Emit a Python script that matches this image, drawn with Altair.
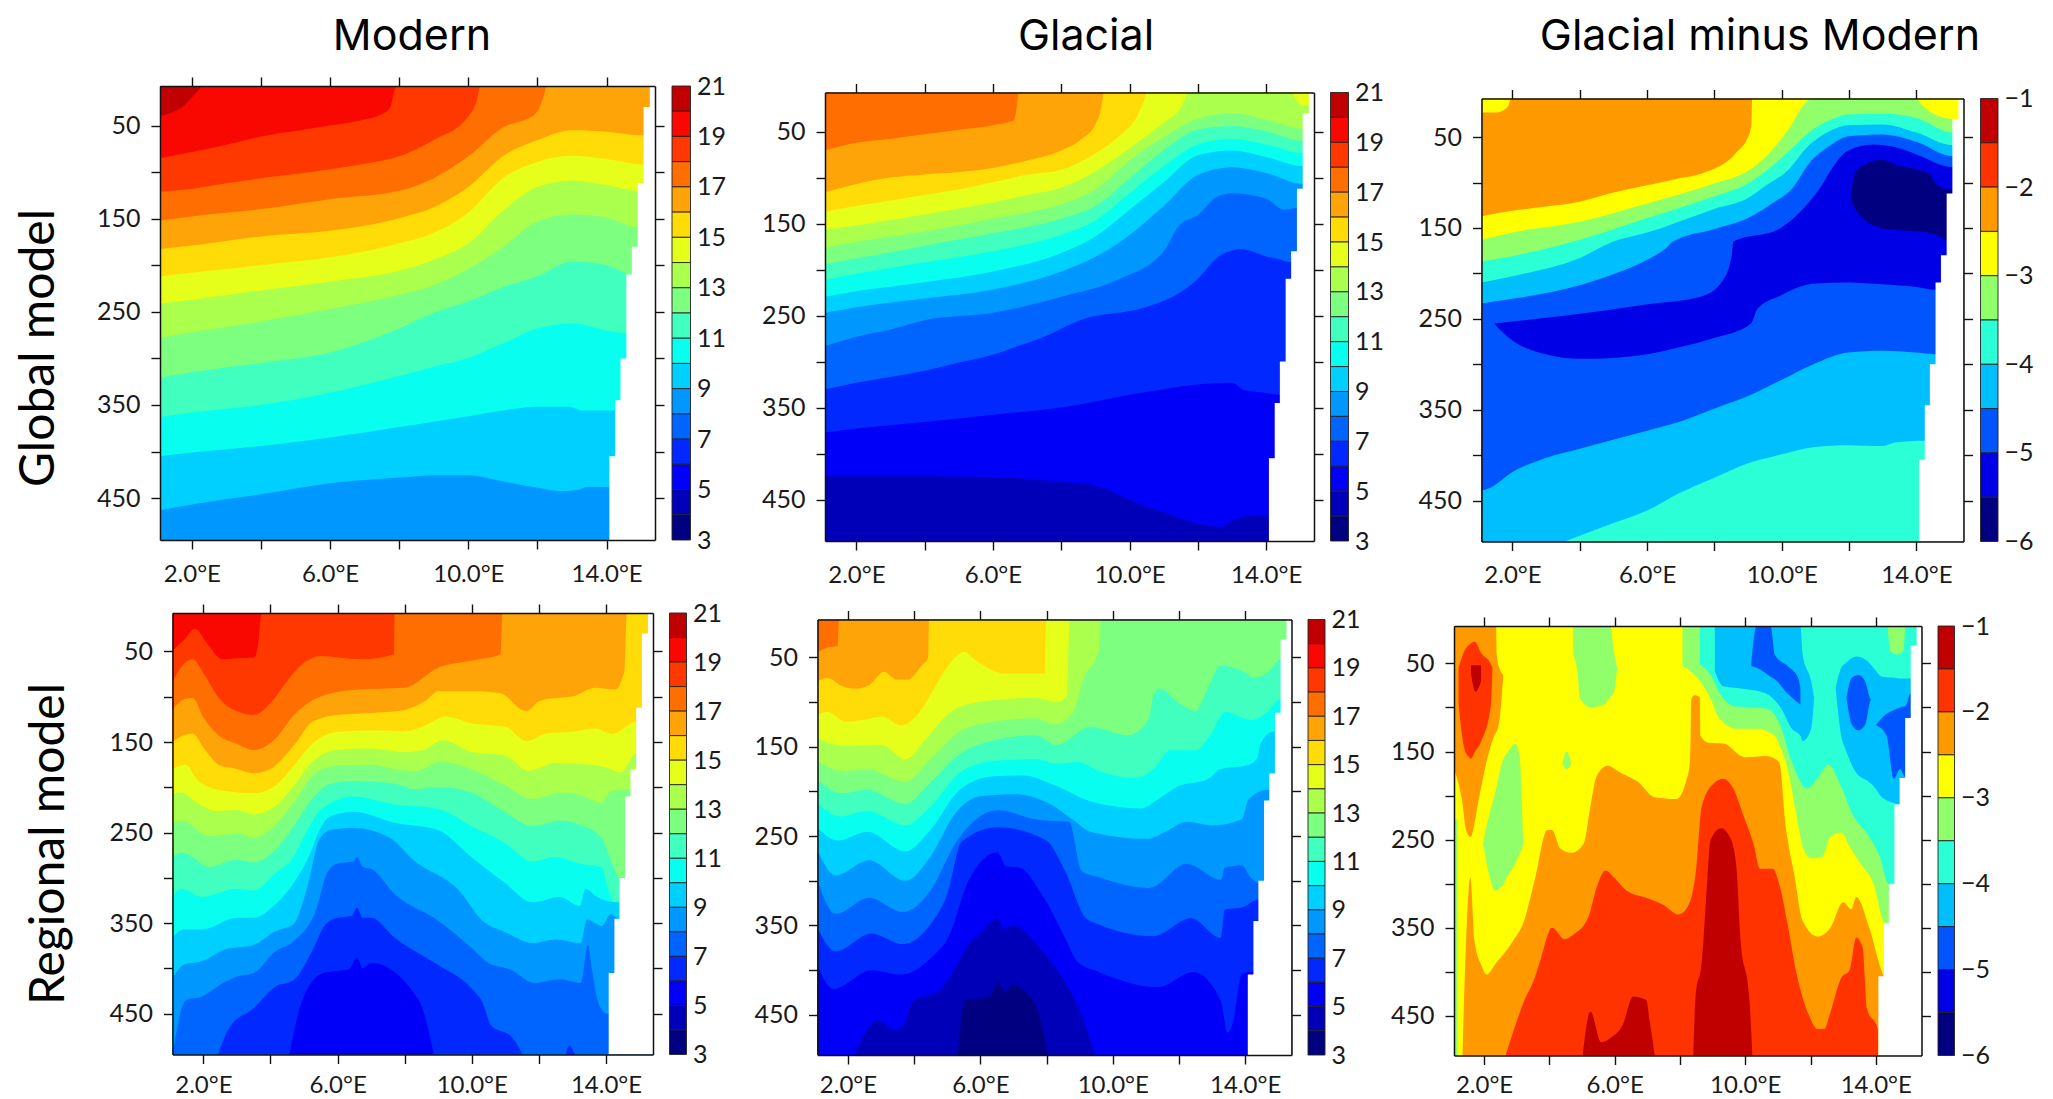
import altair as alt
import pandas as pd

# ---- shared axes / bands ----
LON_DOMAIN = [1.08, 15.4]
DEPTH_DOMAIN = [7.5, 495]
LON_TICKS = [2, 4, 6, 8, 10, 12, 14]
DEPTH_TICKS = [50, 100, 150, 200, 250, 300, 350, 400, 450]
TEMP_BANDS = [20, 19, 18, 17, 16, 15, 14, 13, 12, 11, 10, 9, 8, 7, 6, 5, 4, 3]
TEMP_COLORS = ["#C00000", "#F80800", "#FF3800", "#FF6E00", "#FFA408", "#FFDC08", "#E6FF1A", "#ABFF4D", "#7DFF80",
               "#40FFBF", "#08FFF0", "#00D0FF", "#0098FF", "#0064FF", "#0028FF", "#0000F8", "#0000B8", "#000080"]
DIFF_BANDS = [-1.5, -2, -2.5, -3, -3.5, -4, -4.5, -5, -5.5, -6]
DIFF_COLORS = ["#C00000", "#FF3300", "#FF9900", "#FFFF00", "#90FF6A", "#2AFFD5", "#00BFFF", "#0055FF", "#0000E6", "#000080"]
TEMP_LABELS = [3, 5, 7, 9, 11, 13, 15, 17, 19, 21]
DIFF_LABELS = [-1, -2, -3, -4, -5, -6]
LAND_DEPTH = [7.5, 30, 112, 180, 210, 300, 345, 405, 495]
LAND_LON = [15.25, 15.07, 14.9, 14.73, 14.57, 14.4, 14.25, 14.08]

# ---- contours: (band below the line, longitudes, depths); patches add a second depth list ----
G = [1.08, 2, 4, 6, 8, 9, 10, 11, 12, 13, 14]
GLOBAL_MODERN = [
    (19, [1.08, 1.77, 2.26, 2.3], [39.5, 28.6, 9, 7.5]),
    (18, [1.08, 2, 3, 4, 5, 6, 7, 7.54, 7.74, 7.9, 7.98], [85, 78.5, 70.7, 61.7, 55.8, 50, 43.4, 37, 30.5, 9, 7.5]),
    (17, [1.08, 2, 3, 4, 5, 6, 7, 8, 9, 10, 10.26, 10.33, 10.37], [121, 118, 112, 106.5, 102, 97, 91, 83, 65.6, 40, 21, 9, 7.5]),
    (16, [1.08, 2, 4, 6, 8, 9, 10, 11, 11.92, 12.19, 12.25, 12.3], [152, 147.5, 139.7, 129, 120, 106.5, 83, 52, 38, 17, 9, 7.5]),
    (15, G + [15.05], [182.5, 178.7, 169, 163, 149.4, 137.7, 116, 83, 65.6, 55, 56.6, 60.5]),
    (14, G + [15.05], [212, 208, 200, 191.5, 176.7, 165, 143.6, 106.5, 89, 82.4, 86, 91.7]),
    (13, G + [14.9], [241, 237, 227, 217.6, 206, 194, 176.7, 141.6, 116, 109, 114, 120]),
    (12, G + [14.9], [278, 272, 260.5, 247, 232, 221.5, 204, 180.6, 153, 145.5, 149, 159]),
    (11, G + [14.72], [321, 315, 305, 293.7, 268, 251, 239, 223.5, 212, 196, 200, 210]),
    (10, G + [14.58], [363, 358, 350, 337, 319, 309, 299.5, 284, 268, 262.5, 270, 273]),
    (9, [1.08, 2, 4, 6, 8, 9, 10, 11, 12, 12.9, 13.3, 14.25], [405, 401, 394, 385, 373.6, 368, 362, 356, 352, 352, 356, 356]),
    (8, [1.08, 2, 4, 6, 8, 9, 10, 11, 12, 12.7, 13.2, 13.4, 14.1], [463, 457, 446, 434, 428, 425.4, 425.4, 432, 439, 442.6, 441, 438, 438]),
]
G2 = [1.08, 2, 4, 6, 8, 9, 10, 11, 12, 13, 14, 15.08]
GLOBAL_GLACIAL = [
    (16, [1.08, 2, 3, 4, 5, 6, 6.6, 6.7, 6.75], [70.5, 62, 58, 53, 48, 43, 38, 22, 7.5]),
    (15, [1.08, 2, 3, 4, 5, 6, 7, 8, 8.6, 9, 9.16, 9.25], [116, 107, 100, 96.5, 94, 89.5, 81.5, 70.5, 58, 42, 26, 7.5]),
    (14, [1.08, 2, 3, 4, 5, 6, 7, 8, 9, 9.72, 10.21, 10.4, 10.52], [137, 131, 125, 119, 113, 105, 97, 91.5, 73.7, 54, 34, 18.4, 7.5]),
    (13, [1.08, 2, 3, 4, 5, 6, 7, 8, 9, 10, 11, 11.5, 11.75], [157, 152, 146, 140, 133.6, 127, 119, 111, 93.4, 68, 40, 24.4, 7.5]),
    (12, G2, [176, 170, 158.5, 144.7, 129, 113, 81.5, 56, 36, 30, 37, 47]),
    (11, G2, [194, 188, 174, 160.5, 144.7, 131, 101, 70, 48, 44, 50, 60]),
    (10, G2, [211, 204.6, 192, 180, 162, 146.6, 117, 87.5, 64, 58, 64, 73.7]),
    (9, G2, [229.5, 223.6, 213.7, 202, 182, 164, 135, 105, 75.6, 70.5, 77.6, 87.5]),
    (8, [1.08, 2, 4, 6, 8, 9, 9.72, 11, 12, 13, 14, 15.08], [247, 241, 231.5, 221.6, 202, 186, 170, 131, 97, 88.7, 95, 107]),
    (7, [1.08, 2, 3, 4, 6, 8, 9.72, 11, 11.44, 12, 12.55, 13, 14, 14.52, 14.89], [283, 273, 265, 255, 247, 229.5, 210, 180, 152.6, 140.7, 121, 117, 123, 135, 133]),
    (6, [1.08, 2, 4, 5, 6, 6.51, 7.5, 8.55, 10.46, 11.26, 11.94, 12.68, 13.29, 14.03, 14.28, 14.73], [330, 323, 310, 301, 292.6, 286, 273, 255, 241, 229.5, 212, 184, 178, 186, 188, 192]),
    (5, [1.08, 2, 4, 6, 8, 10, 11, 12, 13, 13.35, 14, 14.4], [377, 372.7, 365.6, 357.7, 350, 336, 330, 325, 323, 331, 334, 336]),
    (4, [1.08, 4, 6, 8, 9, 10, 11, 12, 12.68, 13, 13.42, 14.03], [424.7, 424.7, 425.5, 430.7, 434.6, 450.5, 464, 476, 480, 473, 468, 467]),
    (14, [14.75, 15.08, 15.4], [7.5, 7.5, 7.5], [7.5, 22, 22]),
]
GLOBAL_DIFF = [
    (-3, [1.08, 1.5, 1.85, 1.95], [7.5, 7.5, 7.5, 7.5], [23, 23, 17, 7.5]),
    (-3, [1.08, 2, 3, 4, 5, 6, 7, 7.63, 8.65, 9.03, 9.1, 9.12], [137, 131, 126.4, 121, 111, 103, 95, 90, 67, 47, 35, 7.5]),
    (-3.5, [1.08, 2, 4, 6, 8, 9, 9.54, 10.17, 10.81, 10.91], [163, 155, 143, 123, 101, 87, 71, 43, 9, 7.5]),
    (-4, [1.08, 2, 4, 6, 8, 9, 9.54, 10.17, 10.81, 11.45, 11.98, 13, 14, 15.08], [187, 181, 163, 139, 115, 101, 87, 67, 45, 31, 25, 24.4, 29, 45]),
    (-4.5, [1.08, 2, 4, 5, 6, 8, 9, 9.54, 10.17, 10.81, 11.45, 11.98, 13, 14, 15.08], [210, 203, 183, 165, 155, 129, 117, 103, 87, 59, 43, 37, 36, 45, 59]),
    (-5, [1.08, 2, 4, 5, 6, 6.6, 6.76, 8, 9, 9.79, 10.3, 10.81, 11.45, 11.98, 13, 14, 15.08], [233, 228, 213, 201, 185, 171, 165, 151, 139, 121, 107, 79, 59, 49, 47, 55, 71]),
    (-5.5, [1.45, 3.42, 4.7, 6, 7.63, 8.26, 8.52, 8.56, 9.92, 10.68, 11.19, 11.45, 11.96, 12.72, 13.36, 14, 15.08], [255, 247, 241, 234, 225, 207, 179, 165, 151, 127, 103, 87, 65, 58, 61, 69, 83]),
    (-6, [12.05, 12.15, 12.53, 12.98, 13.36, 14.38, 14.57, 14.89], [119, 91, 79, 75, 80, 90, 101, 107], [119, 127, 143, 150, 152, 155, 157, 163]),
    (-5, [1.45, 1.9, 2.99, 4, 4.99, 6, 6.99, 7.99, 9.09, 9.28, 9.92, 10.99, 11.98, 12.99, 14, 14.57], [255, 271, 289, 294, 293, 289, 281, 271, 255, 239, 225, 211, 210, 212, 215, 218]),
    (-4.5, [1.08, 1.39, 1.9, 2.99, 4, 4.99, 6, 6.99, 7.99, 9, 10, 10.99, 11.98, 12.99, 14, 14.57], [439, 435, 421, 403, 393, 383, 373, 363, 349, 335, 317, 299, 287, 285, 287, 289]),
    (-4, [3.55, 4.99, 6, 6.99, 7.99, 9, 10, 10.99, 11.98, 12.99, 13.36, 14.25], [495, 475, 461, 441, 425, 409, 399, 391, 389, 390, 386, 384]),
    (-3, [14.0, 14.44, 15.08, 15.4], [7.5, 7.5, 7.5, 7.5], [7.5, 23, 30, 30]),
]
REGIONAL_MODERN = [
    (18, [1.08, 1.41, 1.75, 2.09, 2.57, 3.05, 3.53, 3.63, 3.74], [49, 38, 25, 40, 58.6, 57.5, 56.7, 42, 7.5]),
    (17, [1.08, 1.41, 1.68, 2.02, 2.5, 3, 3.5, 4, 4.42, 4.83, 5.52, 6, 6.75, 7.68, 7.7], [83, 64, 58.6, 75, 103, 116, 120, 107, 86.5, 68, 55, 56.7, 58.6, 53, 7.5]),
    (16, [1.08, 1.41, 1.68, 2.02, 2.5, 3, 3.5, 4.15, 4.7, 5.5, 6.6, 8, 9, 10, 10.86, 10.91], [114.5, 103, 101.4, 124, 144, 152, 159, 146, 120, 99.6, 92, 90, 68, 60, 53, 7.5]),
    (15, [1.08, 1.41, 1.68, 2.02, 2.5, 3, 3.5, 4, 4.7, 5.25, 6, 7, 8, 8.67, 9, 10, 10.86, 11.5, 11.64, 12, 12.5, 13, 13.68, 14.27, 14.55, 14.62],
     [150, 142.4, 140.6, 157, 176, 179.7, 184.5, 179.7, 153.6, 127.5, 120, 118, 114.5, 103, 94, 94, 96, 114.5, 115.6, 105, 101.4, 99.6, 90, 92, 71.6, 7.5]),
    (14, [1.08, 1.47, 1.81, 2.36, 3.5, 4.15, 4.7, 5.25, 6, 7, 8, 8.53, 9.22, 10, 11, 11.64, 12.23, 13, 13.68, 14.2, 14.9],
     [179.7, 175, 191, 202, 206.5, 198, 176, 152, 138.7, 137, 138, 133, 122, 129.4, 133, 149, 140.6, 138.7, 135, 141, 127.5]),
    (13, [1.08, 1.34, 1.81, 2.36, 3, 3.5, 4.15, 4.7, 5.25, 6, 7, 8, 8.53, 9.15, 10, 11, 11.68, 12.5, 13.2, 14, 14.44, 14.9],
     [207.7, 205.8, 217, 226, 225, 230, 220.7, 198, 172, 158.5, 157, 161, 159, 148, 161, 165, 181.6, 173, 174, 178, 183.4, 163]),
    (12, [1.08, 1.41, 1.82, 2.23, 3, 3.5, 4.15, 4.69, 5.38, 6, 7, 7.7, 8.32, 9.07, 9.99, 11, 11.81, 12.63, 13.18, 13.87, 14.14, 14.71],
     [239, 237, 247, 254, 251, 256, 241, 217, 183, 176, 175, 180, 182, 172, 180, 198, 213, 206, 208, 217, 204, 202]),
    (11, [1.08, 1.34, 1.68, 2.16, 3, 3.5, 4.15, 4.69, 5.24, 5.79, 6.47, 7.7, 8.32, 9.07, 9.99, 11, 11.81, 12.63, 13.18, 13.87, 14.14, 14.41],
     [277, 272, 277, 288, 280, 283, 269, 243, 213, 196, 193, 196, 202, 200, 206, 228, 243, 237, 241, 256, 280, 300]),
    (10, [1.08, 1.34, 1.96, 3, 3.5, 4.15, 4.69, 5.1, 5.52, 6.47, 7.7, 8.99, 9.99, 11, 11.81, 12.5, 13.18, 13.87, 14.07, 14.35],
     [321, 312, 321, 312, 314, 295, 277, 247, 224, 210, 219, 224, 243, 262, 282, 277, 284, 288, 314, 332]),
    (9, [1.08, 1.41, 1.96, 3, 3.5, 4.15, 4.69, 5.1, 5.52, 5.79, 6.47, 7.7, 8.99, 9.99, 11, 11.81, 12.63, 13.22, 13.39, 13.73, 14.35],
     [366, 357, 357, 344, 344, 329, 306, 280, 243, 232, 227, 239, 247, 277, 306, 327, 321, 331, 312, 321, 327]),
    (8, [1.08, 1.41, 1.96, 2.64, 3.5, 4.15, 4.69, 5.1, 5.45, 5.79, 6.47, 7.57, 8.25, 9.62, 10.31, 11, 11.81, 12.5, 13.25, 13.43, 13.87, 14.14, 14.35],
     [411, 396, 392, 379, 374, 359, 351, 310, 258, 247, 245, 256, 280, 314, 347, 360, 372, 368, 372, 346, 353, 340, 344]),
    (7, [1.08, 1.48, 1.96, 2.5, 3, 3.5, 4.15, 4.69, 5.38, 5.68, 6, 6.47, 6.58, 6.75, 7, 7.7, 8.99, 9.99, 10.5, 11.13, 11.88, 12.63, 13.25, 13.46, 13.59, 13.8, 14.03],
     [495, 435, 431, 418, 409, 405, 381, 370, 333, 295, 284, 282, 277, 288, 290, 318, 347, 377, 394, 401, 416, 412, 416, 374, 403, 441, 450]),
    (6, [2.44, 2.78, 3.5, 4.15, 4.69, 5.24, 5.65, 6, 6.41, 6.58, 6.75, 7, 7.7, 8.99, 9.99, 10.31, 10.58, 11.2, 11.51],
     [495, 465, 444, 420, 413, 381, 351, 344, 342, 333, 344, 344, 366, 396, 422, 437, 463, 476, 495]),
    (6, [12.8, 12.91, 13.11], [495, 485, 495]),
    (5, [4.56, 4.97, 5.58, 6.34, 6.58, 6.75, 7, 8.42, 8.87], [495, 433, 405, 401, 388, 400, 394, 435, 495]),
]
REGIONAL_GLACIAL = [
    (16, [1.08, 1.37, 1.69, 1.73], [44, 39, 37, 7.5]),
    (15, [1.08, 1.37, 1.82, 2.2, 2.64, 3.09, 3.47, 3.79, 4.23, 4.42, 4.45], [77, 73, 82, 85, 81, 66, 75, 75, 59, 50, 7.5]),
    (14, [1.08, 1.37, 1.94, 2.45, 3.02, 3.6, 4.1, 4.62, 5, 5.5, 5.89, 6.72, 7.95, 7.99], [114, 111, 122, 120, 116, 126, 114, 84, 61, 44, 54, 68, 68, 7.5]),
    (13, [1.08, 1.94, 3.02, 3.73, 4.36, 5, 5.76, 7.03, 7.67, 8.3, 8.62, 8.7], [141, 149, 148, 164, 141, 114, 101, 96, 95, 100, 92, 7.5]),
    (12, [1.08, 1.82, 2.58, 3.73, 4.49, 5.38, 6.4, 7.67, 8.24, 8.81, 9.13, 9.58, 9.64], [166, 177, 175, 189, 164, 133, 122, 118, 125, 111, 73, 42, 7.5]),
    (11, [1.08, 1.82, 2.58, 3.73, 4.49, 5.38, 6.4, 7.67, 8.3, 9.32, 10.47, 11.1, 11.23, 11.43, 12, 12.5, 12.88, 13.26, 13.9, 14.29, 14.67, 15.1],
     [188, 202, 198, 214, 190, 158, 143, 137, 148, 128, 137, 118, 92, 85, 101, 110, 84, 59, 65, 73, 67, 52]),
    (10, [1.08, 1.76, 2.58, 3.73, 4.49, 5.38, 6.4, 7.67, 8.3, 8.94, 9.58, 10.66, 11.23, 11.74, 12.5, 12.95, 13.4, 14.16, 14.67, 15.05],
     [213, 228, 222, 238, 217, 179, 166, 164, 169, 167, 177, 185, 175, 154, 154, 137, 111, 120, 111, 97]),
    (9, [1.08, 1.69, 2.58, 3.73, 4.49, 5.38, 6.4, 7.29, 8.3, 9.32, 10.85, 11.36, 12, 12.88, 13.26, 14.03, 14.35, 14.48, 14.86],
     [241, 255, 245, 267, 243, 198, 183, 182, 194, 211, 219, 209, 194, 186, 175, 171, 164, 145, 133]),
    (8, [1.08, 1.63, 2.64, 3.73, 4.49, 5.25, 6.03, 7.05, 8.05, 8.81, 9.32, 11.03, 11.6, 12.24, 13, 13.9, 14.1, 14.67],
     [266, 294, 277, 300, 273, 224, 205, 203, 213, 232, 245, 253, 245, 234, 238, 231, 209, 198]),
    (7, [1.08, 1.63, 2.64, 3.65, 4.49, 5.25, 6.52, 7.79, 8.68, 9.06, 9.58, 11.1, 12.24, 13.26, 13.39, 13.9, 14.16, 14.41],
     [300, 337, 319, 335, 311, 258, 221, 232, 234, 289, 296, 308, 281, 299, 285, 283, 296, 302]),
    (6, [1.08, 1.63, 2.71, 3.65, 4.49, 5, 5.44, 6.52, 7.99, 8.56, 9.19, 9.58, 11.23, 12.36, 13.26, 13.39, 13.9, 14.41],
     [353, 379, 359, 371, 349, 315, 256, 240, 255, 289, 342, 349, 362, 342, 364, 332, 330, 321]),
    (5, [1.08, 1.56, 2.71, 3.6, 4.49, 5.06, 5.64, 6.52, 6.78, 7.16, 7.92, 8.56, 8.94, 9.58, 11.36, 12.44, 13.26, 13.47, 13.63, 13.9, 14.16],
     [395, 421, 400, 405, 387, 361, 300, 268, 284, 285, 319, 364, 391, 402, 419, 402, 434, 470, 459, 404, 402]),
    (4, [2.2, 2.52, 2.9, 3.41, 3.66, 3.98, 4.68, 5.12, 5.63, 6.01, 6.52, 6.71, 6.97, 7.86, 8.56, 8.94, 9.47],
     [495, 470, 456, 467, 463, 434, 425, 406, 372, 359, 342, 354, 350, 378, 414, 440, 495]),
    (3, [5.32, 5.53, 6.27, 6.55, 6.75, 6.97, 7.62, 7.92, 8.02], [495, 434, 430, 414, 425, 417, 436, 474, 495]),
]
REGIONAL_DIFF = [
    (-2.5, [1.08, 1.32, 1.45, 1.58, 1.84, 2.1, 2.37, 2.39, 2.5, 2.59], [7.5, 7.5, 7.5, 7.5, 7.5, 7.5, 7.5, 40, 58, 63], [170, 204, 239, 247, 204, 158, 128, 127, 105, 63]),
    (-2, [1.22, 1.4, 1.51, 1.6, 1.71, 1.91, 2.21, 2.26], [55, 36, 30, 27, 25, 38, 51, 55], [97, 147, 155, 158, 151, 139, 97, 55]),
    (-1.5, [1.6, 1.74, 1.91], [52, 52, 52], [62, 82, 70]),
    (-3.5, [4.73, 4.86, 4.93, 5.26, 5.65, 5.87, 5.98, 6.08], [7.5, 7.5, 7.5, 7.5, 7.5, 7.5, 38, 55], [40, 59, 89, 100, 97, 88, 82, 55]),
    (-3.5, [4.4, 4.53, 4.67], [164, 150, 164], [164, 170, 164]),
    (-3.5, [1.97, 2.17, 2.34, 2.56, 2.76, 2.96, 3.09, 3.16, 3.2], [254, 220, 197, 162, 149, 141, 155, 212, 254], [254, 292, 308, 302, 289, 277, 266, 260, 254]),
    (-2.5, [1.34, 1.45, 1.58, 1.71, 1.91, 2.08, 2.37, 2.89, 3.22, 3.55, 3.94, 4.08, 4.34, 4.67, 5.06, 5.26, 5.45, 5.78, 6.18, 6.7, 7.23, 7.89, 8.21, 8.3, 8.33, 8.35, 8.45, 8.61, 8.63, 8.87, 9.33, 9.99, 10.64, 11.04, 11.24, 11.3, 11.5, 11.76, 12.22, 12.61, 13, 13.25, 13.4, 13.8, 14.22, 14.32],
     [495, 365, 293, 365, 392, 403, 390, 365, 343, 296, 239, 239, 260, 265, 254, 212, 178, 166, 174, 184, 202, 204, 181, 164, 132, 90, 86, 88, 132, 140, 141, 156.5, 155, 162, 235, 250, 289, 342, 360, 350, 321, 329, 315, 350, 403, 410]),
    (-2, [2.66, 3.22, 3.55, 3.75, 4.08, 4.47, 4.73, 5.19, 5.45, 5.72, 5.98, 6.37, 6.96, 7.49, 7.95, 8.21, 8.48, 8.67, 9.07, 9.33, 9.59, 9.99, 10.25, 10.45, 10.84, 11.04, 11.3, 11.56, 11.96, 12.22, 12.42, 12.61, 12.94, 13.2, 13.4, 13.6, 13.73, 14.06, 14.08],
     [495, 434, 407, 384, 350, 363, 358, 338.5, 304, 285, 293, 308, 316, 324, 335, 328, 289, 212, 185, 181, 189, 227, 254, 283, 283, 300, 346, 400, 450, 465, 465, 446, 407, 398, 361, 373, 442, 465, 495]),
    (-1.5, [8.41, 8.48, 8.67, 8.8, 8.94, 9.26, 9.53, 9.72, 9.86, 10.12, 10.22], [495, 427, 388, 319, 250, 237, 247, 277, 365, 427, 495]),
    (-1.5, [5.02, 5.26, 5.59, 5.91, 6.24, 6.57, 6.97, 7.07, 7.23], [495, 445, 480, 474, 461, 428, 432, 455, 495]),
    (-3.5, [1.08, 1.19], [227, 227]),
    (-3.5, [8.08, 8.54, 8.94, 9.2, 9.72, 10.38, 10.9, 11.1, 11.3, 11.56, 11.76, 12.02, 12.35, 12.61, 12.94, 13.2, 13.53, 13.93, 14.26, 14.45],
     [7.5] * 20, [53, 66.5, 90, 112, 124, 124, 132, 147, 170, 220, 258, 271, 270, 247, 242, 258, 277, 300, 344, 346]),
    (-4, [8.61, 8.94, 9.26, 9.72, 10.64, 11.04, 11.43, 11.89, 12.22, 12.55, 12.94, 13.27, 13.8, 14.13, 14.39, 14.59],
     [7.5] * 16, [51, 63, 86, 99, 101, 117, 162, 192, 180, 165, 190, 220, 247, 270, 300, 301]),
    (-4.5, [9.07, 9.33, 9.99, 10.64, 11.1, 11.43, 11.69, 11.76, 12.02, 12.11], [7.5, 7.5, 7.5, 7.5, 7.5, 7.5, 7.5, 40, 70, 89], [59, 76, 79, 84, 101, 124, 132, 138, 124, 89]),
    (-5, [10.18, 10.35, 10.78, 10.91, 11.3, 11.63, 11.69], [53, 7.5, 7.5, 40, 53, 67, 78], [53, 55, 65, 68, 84, 95, 97]),
    (-3.5, [14.36, 14.45, 14.65, 14.85, 14.91], [7.5, 7.5, 7.5, 7.5, 7.5], [7.5, 36, 40, 36, 7.5]),
    (-4.5, [12.77, 12.94, 13.07, 13.4, 13.73, 13.93, 14.19, 14.52, 14.72, 15.05], [78, 55, 50, 42, 47, 55, 65, 66, 67, 67], [78, 132, 147, 174, 183, 189, 202, 208, 210, 210]),
    (-5, [13.1, 13.27, 13.47, 13.67, 13.86], [89, 66, 63, 70, 91], [89, 120, 126, 120, 91]),
    (-5, [14.0, 14.33, 14.55, 14.74, 14.91, 15.07], [120, 107, 103, 100, 98, 84], [120, 132, 181, 170, 179, 179]),
]

PANELS = [
    (20, GLOBAL_MODERN, (160, 655, 86, 540), (672, 690.5), "T", 13),
    (17, GLOBAL_GLACIAL, (825, 1314, 92.5, 541), (1330.5, 1348.5), "T", 13),
    (-2.5, GLOBAL_DIFF, (1481.5, 1963.5, 98.5, 541.5), (1980.5, 1998), "D", 13),
    (19, REGIONAL_MODERN, (172.5, 653, 613, 1054.5), (669.5, 686.5), "T", 10),
    (17, REGIONAL_GLACIAL, (817.5, 1291.5, 619.5, 1055), (1308, 1325), "T", 9.5),
    (-3, REGIONAL_DIFF, (1454, 1921.5, 626, 1055.5), (1938, 1954.5), "D", 9),
]
COLUMN_TITLES = [("Modern", 412, 50), ("Glacial", 1086, 50), ("Glacial minus Modern", 1760, 50)]
ROW_TITLES = [("Global model", 54, 348), ("Regional model", 64, 844)]

W, H = 2037, 1091
OFF = 8
FONT = "Lato"
TITLE_FONT = "Inter"
color_scale = alt.Scale(domain=[str(b) for b in TEMP_BANDS + DIFF_BANDS], range=TEMP_COLORS + DIFF_COLORS)


def rows_for(background, table):
    rows = []
    specs = [(background, LON_DOMAIN, DEPTH_DOMAIN[:1] * 2, DEPTH_DOMAIN[1:] * 2)]
    for spec in table:
        band, lons, tops = spec[0], list(spec[1]), list(spec[2])
        assert len(lons) == len(tops), (band, lons[:3], len(lons), len(tops))
        if len(spec) == 4:
            bots = list(spec[3])
            assert len(bots) == len(lons), (band, lons[:3])
        else:
            bots = [DEPTH_DOMAIN[1]] * len(lons)
        if lons[-1] < LON_DOMAIN[1] and (lons[-1] > 13 or (len(spec) == 3 and tops[-1] <= 8)):
            lons.append(LON_DOMAIN[1]); tops.append(tops[-1]); bots.append(bots[-1])
        specs.append((band, lons, tops, bots))
    for i, (band, lons, tops, bots) in enumerate(specs):
        for lo, t, b in zip(lons, tops, bots):
            rows.append({"patch": i, "band": str(band), "lon": lo, "top": t, "bottom": b})
    return pd.DataFrame(rows)


def base_axis(**kw):
    d = dict(title=None, grid=False, domainColor="#111", domainWidth=1.5, tickColor="#111", tickWidth=1.4,
             tickSize=9, labelFont=FONT, labelColor="#1a1a1a", labelFlush=False, labelBound=False,
             labelOverlap=False, zindex=1)
    d.update(kw)
    return alt.Axis(**d)


land_rows = []
for i, lon in enumerate(LAND_LON):
    land_rows.append({"lon": lon, "depth": LAND_DEPTH[i], "edge": LON_DOMAIN[1]})
    land_rows.append({"lon": lon, "depth": LAND_DEPTH[i + 1], "edge": LON_DOMAIN[1]})
land_df = pd.DataFrame(land_rows)
frame_df = pd.DataFrame({"lon": LON_DOMAIN, "depth": DEPTH_DOMAIN})

layers = []
for bg, table, (l, r, t, b), (bl, br), kind, xpad in PANELS:
    l0, r0, t0, b0 = l - OFF, r - OFF, t - OFF, b - OFF
    xs = alt.Scale(domain=LON_DOMAIN, range=[l0, r0], nice=False, zero=False)
    ys = alt.Scale(domain=DEPTH_DOMAIN, range=[t0, b0], nice=False, zero=False, clamp=True)
    df = rows_for(bg, table)
    x_axis = base_axis(orient="bottom", offset=-(H - b0), values=LON_TICKS, labelFontSize=24, labelPadding=xpad,
                       labelExpr="datum.value % 4 == 2 ? datum.value + '.0°E' : ''")
    y_axis = base_axis(orient="left", offset=-l0, values=DEPTH_TICKS, labelFontSize=25, labelPadding=11,
                       labelExpr="datum.value % 100 == 50 ? datum.value : ''")
    layers.append(
        alt.Chart(df).mark_area(interpolate="monotone", orient="vertical").encode(
            x=alt.X("lon:Q", scale=xs, axis=x_axis),
            y=alt.Y("top:Q", scale=ys, axis=y_axis),
            y2=alt.Y2("bottom:Q"),
            color=alt.Color("band:N", scale=color_scale, legend=None),
            detail="patch:N",
        )
    )
    layers.append(
        alt.Chart(land_df).mark_area(orient="horizontal", color="white").encode(
            x=alt.X("lon:Q", scale=xs, axis=None),
            x2=alt.X2("edge:Q"),
            y=alt.Y("depth:Q", scale=ys, axis=None),
        )
    )
    layers.append(
        alt.Chart(frame_df).mark_point(opacity=0).encode(
            x=alt.X("lon:Q", scale=xs, axis=base_axis(orient="top", offset=-t0, values=LON_TICKS, labels=False)),
            y=alt.Y("depth:Q", scale=ys, axis=base_axis(orient="right", offset=-(W - r0), values=DEPTH_TICKS, labels=False)),
        )
    )
    if kind == "T":
        bar = pd.DataFrame({"band": [str(v) for v in TEMP_BANDS], "lo": TEMP_BANDS, "hi": [v + 1 for v in TEMP_BANDS]})
        dom, vals, expr = [3, 21], TEMP_LABELS, "datum.value"
    else:
        bar = pd.DataFrame({"band": [str(v) for v in DIFF_BANDS], "lo": DIFF_BANDS, "hi": [v + 0.5 for v in DIFF_BANDS]})
        dom, vals, expr = [-6, -1], DIFF_LABELS, "'\u2212' + abs(datum.value)"
    bar["x0"], bar["x1"] = 0, 1
    layers.append(
        alt.Chart(bar).mark_rect(stroke="#222", strokeWidth=0.9).encode(
            x=alt.X("x0:Q", scale=alt.Scale(domain=[0, 1], range=[bl - OFF, br - OFF]), axis=None),
            x2=alt.X2("x1:Q"),
            y=alt.Y("lo:Q", scale=alt.Scale(domain=dom, range=[b0, t0], nice=False, zero=False),
                    axis=alt.Axis(orient="right", offset=-(W - (br - OFF)), values=vals, title=None, grid=False,
                                  domain=False, ticks=False, labelFont=FONT, labelFontSize=25, labelColor="#1a1a1a",
                                  labelPadding=6, labelFlush=False, labelBound=False, labelOverlap=False,
                                  labelExpr=expr)),
            y2=alt.Y2("hi:Q"),
            color=alt.Color("band:N", scale=color_scale, legend=None),
        )
    )

for text, px, py in COLUMN_TITLES:
    layers.append(
        alt.Chart(pd.DataFrame({"t": [text]})).mark_text(font=TITLE_FONT, fontSize=43, align="center", baseline="alphabetic", color="black").encode(
            text="t:N", x=alt.value(px - OFF), y=alt.value(py - OFF))
    )
for text, px, py in ROW_TITLES:
    layers.append(
        alt.Chart(pd.DataFrame({"t": [text]})).mark_text(font=FONT, fontSize=48, angle=270, align="center", baseline="alphabetic", color="black").encode(
            text="t:N", x=alt.value(px - OFF), y=alt.value(py - OFF))
    )

chart = (
    alt.layer(*layers)
    .resolve_scale(x="independent", y="independent", color="shared")
    .resolve_axis(x="independent", y="independent")
    .properties(width=W, height=H, padding=0, autosize=alt.AutoSizeParams(type="none"))
    .configure_view(stroke=None)
)
chart.save("out.html", embed_options={"renderer": "svg", "actions": False})
